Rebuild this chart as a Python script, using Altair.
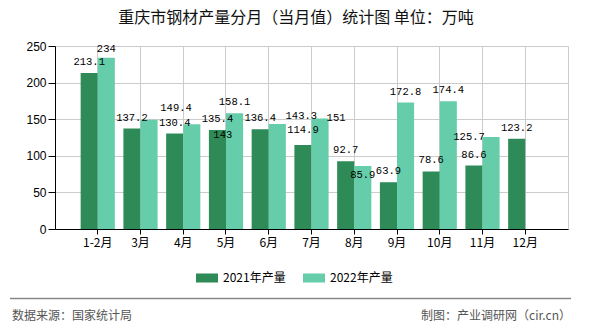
import altair as alt
import pandas as pd

months = ["1-2月", "3月", "4月", "5月", "6月", "7月", "8月", "9月", "10月", "11月", "12月"]
series_names = ["2021年产量", "2022年产量"]
v2021 = [213.1, 137.2, 130.4, 135.4, 136.4, 114.9, 92.7, 63.9, 78.6, 86.6, 123.2]
v2022 = [234, 149.4, 143, 158.1, 143.3, 151, 85.9, 172.8, 174.4, 125.7, None]
colors = ["#2E8B57", "#66CDAA"]
y_ticks = [0, 50, 100, 150, 200, 250]

title_text = "重庆市钢材产量分月（当月值）统计图 单位：万吨"
source_text = "数据来源：国家统计局"
credit_text = "制图：产业调研网（cir.cn）"

rows = []
for m, a, b in zip(months, v2021, v2022):
    rows.append({"month": m, "series": series_names[0], "value": a})
    if b is not None:
        rows.append({"month": m, "series": series_names[1], "value": b})
df = pd.DataFrame(rows)
df["label"] = df["value"].map(lambda v: f"{v:g}")
df["key"] = df["month"] + "|" + df["series"]

CJK = "Noto Sans CJK SC"
MONO = "Liberation Mono"

x_enc = alt.X(
    "month:N", sort=months,
    scale=alt.Scale(paddingInner=0.2, paddingOuter=0.6),
    axis=alt.Axis(title=None, labelAngle=0, grid=True, gridColor="#cccccc",
                  domainColor="black", tickColor="black", tickSize=5,
                  labelFont=CJK, labelFontSize=12, labelColor="black",
                  labelPadding=3),
)
xo_enc = alt.XOffset("series:N", sort=series_names,
                     scale=alt.Scale(paddingInner=0, paddingOuter=0))
y_enc = alt.Y(
    "value:Q", scale=alt.Scale(domain=[0, 250], nice=False),
    axis=alt.Axis(title=None, values=y_ticks, gridColor="#cccccc",
                  domainColor="black", tickColor="black", tickSize=7,
                  labelFont="Liberation Sans", labelFontSize=12,
                  labelColor="black", labelPadding=2),
)

base = alt.Chart(df)

bars = base.mark_bar().encode(
    x=x_enc, xOffset=xo_enc, y=y_enc,
    color=alt.Color(
        "series:N", sort=series_names,
        scale=alt.Scale(domain=series_names, range=colors),
        legend=alt.Legend(
            title=None, orient="none", direction="horizontal",
            legendX=141, legendY=221, padding=0,
            symbolType="M-1,-0.41L1,-0.41L1,0.41L-1,0.41Z",
            symbolSize=484, symbolStrokeWidth=0, symbolOpacity=1,
            labelFont=CJK, labelFontSize=12, labelColor="black",
            labelOffset=5, columnPadding=17,
        ),
    ),
)

# label nudges (dx, dy) for labels moved to avoid overlap in the reference
nudges = {
    "3月|2022年产量": (27, -9),
    "4月|2022年产量": (31, 14),
    "6月|2022年产量": (24, -5),
    "7月|2022年产量": (16, 3),
    "8月|2022年产量": (0, 12),
    "11月|2022年产量": (-22, 3),
    "7月|2021年产量": (0, -12),
    "1-2月|2022年产量": (0, -6),
}

def label_layer(filter_expr, dx=0, dy=-8):
    return base.mark_text(
        font=MONO, fontSize=10.5, color="black", baseline="alphabetic",
        dx=dx, dy=dy,
    ).encode(x=x_enc, xOffset=xo_enc, y=y_enc, text="label:N").transform_filter(filter_expr)

keys = list(nudges.keys())
default_filter = " && ".join([f"datum.key != '{k}'" for k in keys])
layers = [bars, label_layer(default_filter)]
for k, (dx, dy) in nudges.items():
    layers.append(label_layer(f"datum.key == '{k}'", dx=dx, dy=dy))

title = alt.Chart(pd.DataFrame({"t": [title_text]})).mark_text(
    font=CJK, fontSize=16, fontWeight="normal", color="#111111",
    align="center", baseline="middle",
).encode(text="t:N", x=alt.value(241), y=alt.value(-28))

src = alt.Chart(pd.DataFrame({"t": [source_text]})).mark_text(
    font=CJK, fontSize=12, color="#555555", align="left", baseline="middle",
).encode(text="t:N", x=alt.value(-43), y=alt.value(270))

credit = alt.Chart(pd.DataFrame({"t": [credit_text]})).mark_text(
    font=CJK, fontSize=12, color="#555555", align="right", baseline="middle",
).encode(text="t:N", x=alt.value(516), y=alt.value(270))

sep = alt.Chart(pd.DataFrame({"t": [0]})).mark_rule(
    color="#888888", strokeWidth=1.5,
).encode(x=alt.value(-45), x2=alt.value(516), y=alt.value(252.5))

chart = alt.layer(*layers, title, src, credit, sep).properties(
    width=513, height=183,
    autosize=alt.AutoSizeParams(type="none"),
    padding={"left": 55, "top": 46, "right": 22, "bottom": 101},
    background="white",
).configure_view(stroke="#cccccc")

chart.save("out.html", embed_options={"renderer": "svg", "actions": False})
